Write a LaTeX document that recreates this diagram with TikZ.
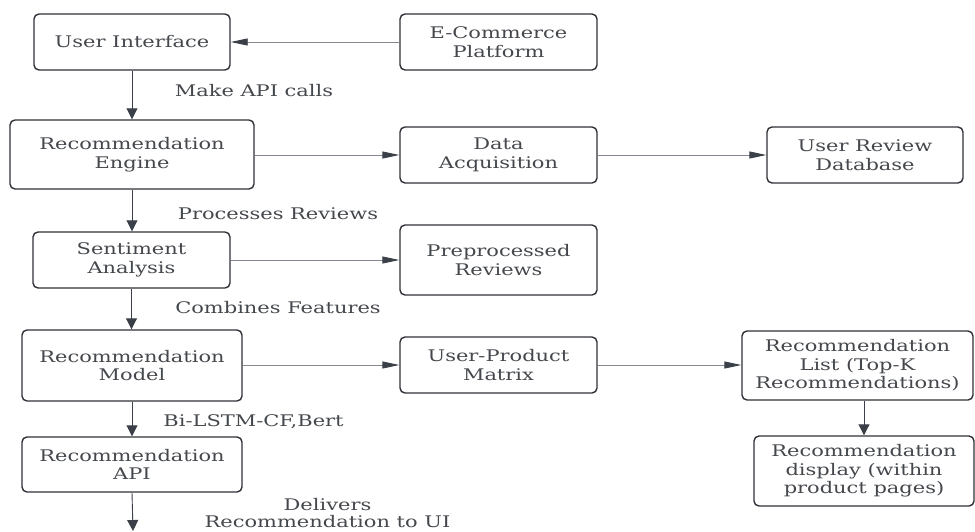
\documentclass[tikz,border=0pt]{standalone}
\usepackage{fontspec}
\setmainfont{DejaVu Serif}[FakeStretch=1.31]
\usetikzlibrary{arrows.meta}
\definecolor{txt}{HTML}{44474C}
\definecolor{bord}{HTML}{2E3137}
\definecolor{headc}{HTML}{3A3F48}
\definecolor{hline}{HTML}{858A92}
\tikzset{
  box/.style={draw=bord, line width=1.4pt, rounded corners=5pt, text=txt, align=center, inner sep=0pt,
    font=\fontsize{16}{18.5}\selectfont},
  lbl/.style={text=txt, align=center, inner sep=0pt, font=\fontsize{16}{17}\selectfont},
  varrow/.style={draw=headc, line width=0.9pt, -{Triangle[length=11pt,width=11pt]}},
  harrow/.style={draw=hline, line width=0.9pt, -{Triangle[length=17pt,width=7pt,color=headc,fill=headc]}},
}
\begin{document}
\begin{tikzpicture}[x=1pt,y=-1pt]
\useasboundingbox (0,0) rectangle (975,531);
\node[box, minimum width=196pt, minimum height=56pt] (ui) at (132,42) {User Interface};
\node[box, minimum width=197pt, minimum height=56pt] (ecp) at (498.5,42) {E-Commerce\\Platform};
\node[box, minimum width=244pt, minimum height=69pt] (eng) at (132,154.5) {Recommendation\\Engine};
\node[box, minimum width=197pt, minimum height=56pt] (daq) at (498.5,155) {Data\\Acquisition};
\node[box, minimum width=196pt, minimum height=56pt] (urd) at (865,155) {User Review\\Database};
\node[box, minimum width=197pt, minimum height=56pt] (sa) at (131.5,260) {Sentiment\\Analysis};
\node[box, minimum width=197pt, minimum height=70pt] (pre) at (498.5,260) {Preprocessed\\Reviews};
\node[box, minimum width=220pt, minimum height=71pt] (model) at (132,365.5) {Recommendation\\Model};
\node[box, minimum width=197pt, minimum height=56pt] (upm) at (498.5,365) {User-Product\\Matrix};
\node[box, minimum width=231pt, minimum height=69pt] (list) at (857.5,365.5) {Recommendation\\List (Top-K\\Recommendations)};
\node[box, minimum width=220pt, minimum height=70pt] (disp) at (864,471) {Recommendation\\display (within\\product pages)};
\node[box, minimum width=220pt, minimum height=55pt] (api) at (132,464.5) {Recommendation\\API};

\node[lbl] (l1) at (254,91) {Make API calls};
\node[lbl] (l2) at (278,214) {Processes Reviews};
\node[lbl] (l3) at (278,308) {Combines Features};
\node[lbl] (l4) at (253.5,422) {Bi-LSTM-CF,Bert};
\node[lbl] (l5) at (327.5,513.5) {Delivers\\Recommendation to UI};

\coordinate (endp) at (133,531);

\draw[harrow] (ecp.west) -- (ui.east);
\draw[harrow] (eng.east |- daq.west) -- (daq.west);
\draw[harrow] (daq.east) -- (urd.west);
\draw[harrow] (sa.east) -- (pre.west);
\draw[harrow] (model.east |- upm.west) -- (upm.west);
\draw[harrow] (upm.east) -- (list.west |- upm.east);

\draw[varrow] (ui.south) -- (eng.north);
\draw[varrow] (eng.south) -- (sa.north -| eng.south);
\draw[varrow] (sa.south) -- (model.north -| sa.south);
\draw[varrow] (model.south) -- (api.north);
\draw[varrow] (api.south) -- (endp);
\draw[varrow] (list.south -| disp.north) -- (disp.north);
\end{tikzpicture}
\end{document}
